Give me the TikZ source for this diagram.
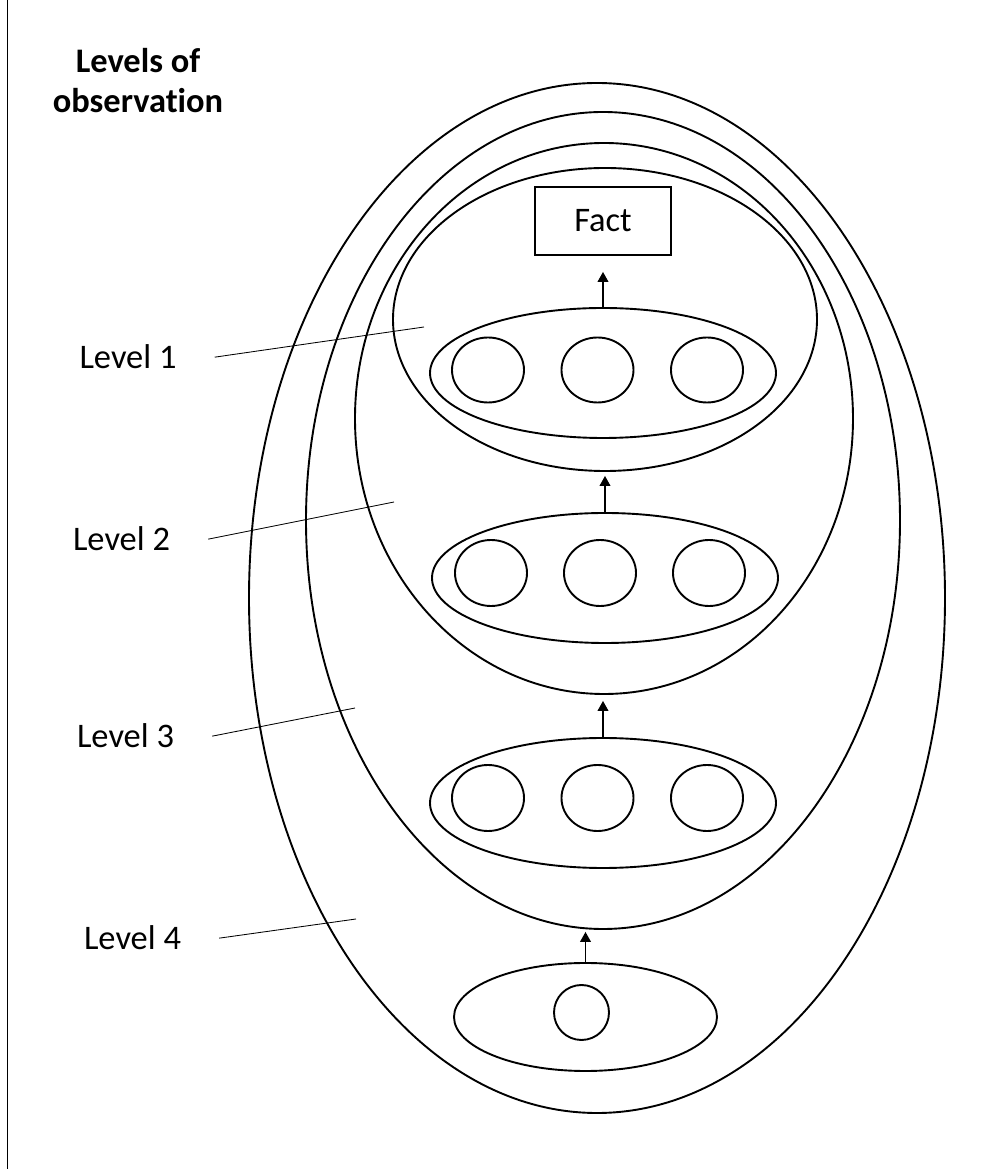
\documentclass[tikz,border=0pt]{standalone}
\usepackage{fontspec}
\setmainfont{Carlito}[Ligatures = NoCommon]
\usetikzlibrary{shapes.geometric, arrows.meta}

\begin{document}
\begin{tikzpicture} [scale = 1, ring/.style = {draw, black, line width = 1.35pt, ellipse, inner sep = 0pt}, lvl/.style = {black, font = \fontsize{24.5}{28.5}\selectfont, inner xsep = 0.95cm, inner ysep = 0pt, anchor = base}, up/.style = {black, line width = 0.9pt, -{Triangle[length = 0.25cm, width = 0.27cm]}}]
\useasboundingbox (0, 0) rectangle (24.725, 29.225);
\draw[black, line width = 0.6pt] (0.175, 0) -- (0.175, 29.225);
\node[black, font = \fontsize{24.5}{28.5}\selectfont\bfseries, align = center] (title) at (3.45, 27.2){Levels of\\observation};
\node[ring, minimum width = 17.4cm, minimum height = 25.75cm] (e4) at (14.925, 14.275){};
\node[ring, minimum width = 14.85cm, minimum height = 20.425cm] (e3) at (15.075, 16.2125){};
\node[ring, minimum width = 12.45cm, minimum height = 13.775cm] (e2) at (15.1, 18.7625){};
\node[ring, minimum width = 10.6cm, minimum height = 7.575cm] (e1) at (15.125, 21.2375){};
\node[draw, black, line width = 1.35pt, minimum width = 3.4cm, minimum height = 1.7cm, font = \fontsize{24.5}{28.5}\selectfont] (fact) at (15.075, 23.7){Fact};
\node[ring, minimum width = 8.65cm, minimum height = 3.25cm] (g1) at (15.075, 19.9){};
\node[ring, minimum width = 1.8cm, minimum height = 1.625cm] (c11) at (12.2, 19.975){};
\node[ring, minimum width = 1.8cm, minimum height = 1.625cm] (c12) at (14.9375, 19.975){};
\node[ring, minimum width = 1.8cm, minimum height = 1.625cm] (c13) at (17.675, 19.975){};
\node[ring, minimum width = 8.65cm, minimum height = 3.25cm] (g2) at (15.125, 14.775){};
\node[ring, minimum width = 1.8cm, minimum height = 1.65cm] (c21) at (12.275, 14.9){};
\node[ring, minimum width = 1.8cm, minimum height = 1.65cm] (c22) at (15.0, 14.9){};
\node[ring, minimum width = 1.8cm, minimum height = 1.65cm] (c23) at (17.725, 14.9){};
\node[ring, minimum width = 8.65cm, minimum height = 3.25cm] (g3) at (15.075, 9.15){};
\node[ring, minimum width = 1.8cm, minimum height = 1.65cm] (c31) at (12.2, 9.275){};
\node[ring, minimum width = 1.8cm, minimum height = 1.65cm] (c32) at (14.9375, 9.275){};
\node[ring, minimum width = 1.8cm, minimum height = 1.65cm] (c33) at (17.675, 9.275){};
\node[ring, minimum width = 6.575cm, minimum height = 2.7cm] (g4) at (14.6375, 3.8){};
\node[ring, minimum width = 1.375cm, minimum height = 1.375cm] (c41) at (14.5375, 3.9125){};
\draw[up, shorten > = 0.4cm] (g1.north) -- (g1.north |- fact.south);
\draw[up, shorten > = 0.1cm] (g2.north) -- (g2.north |- e1.south);
\draw[up, shorten > = 0.15cm] (g3.north) -- (g3.north |- e2.south);
\draw[up, shorten > = 0.05cm] (g4.north) -- (g4.north |- e3.south);
\node[lvl] (lev1) at (3.2, 20.0){Level 1};
\node[lvl] (lev2) at (3.0375, 15.45){Level 2};
\node[lvl] (lev3) at (3.1375, 10.525){Level 3};
\node[lvl] (lev4) at (3.3125, 5.475){Level 4};
\coordinate (p1) at (10.6, 21.05);
\coordinate (p2) at (9.85, 16.675);
\coordinate (p3) at (8.875, 11.525);
\coordinate (p4) at (8.9, 6.25);
\draw[black, line width = 0.6pt] (lev1.east) -- (p1);
\draw[black, line width = 0.6pt] (lev2.east) -- (p2);
\draw[black, line width = 0.6pt] (lev3.east) -- (p3);
\draw[black, line width = 0.6pt] (lev4.east) -- (p4);
\end{tikzpicture}
\end{document}
